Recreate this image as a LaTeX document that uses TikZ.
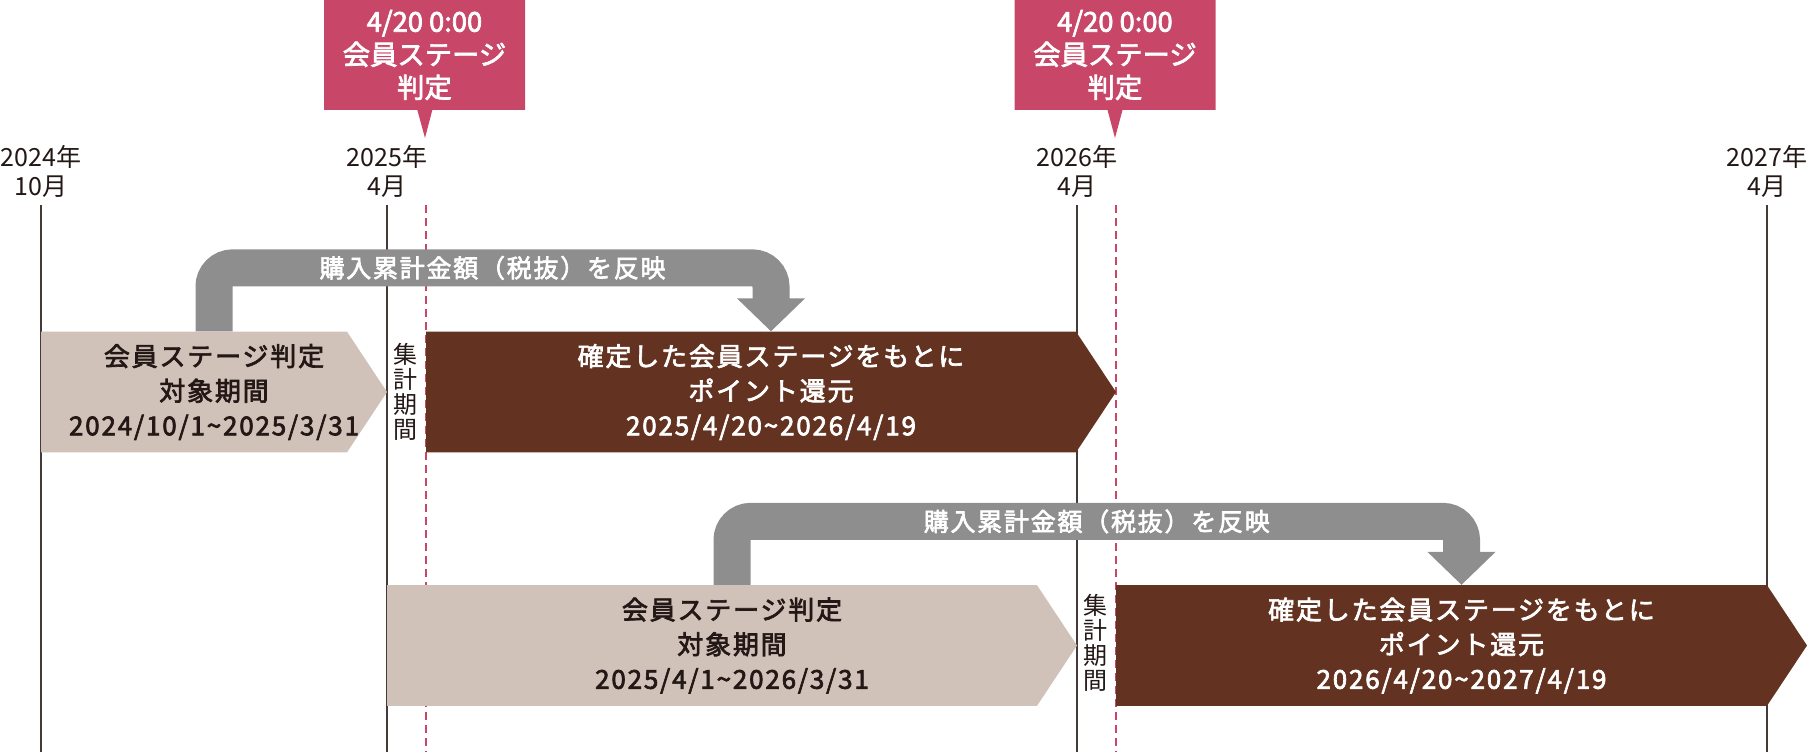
\documentclass[tikz,border=0pt]{standalone}
\usepackage{fontspec}
\setmainfont{Noto Sans CJK JP}
\newfontfamily\spaced[LetterSpace=7,FakeBold=2.6]{Noto Sans CJK JP}
\newfontfamily\medium[FakeBold=2.6]{Noto Sans CJK JP}
\usetikzlibrary{positioning,shapes.callouts,arrows.meta}

\definecolor{judgered}{RGB}{200,71,104}
\definecolor{stagebeige}{RGB}{208,193,185}
\definecolor{rebatebrown}{RGB}{99,50,32}
\definecolor{feedgray}{RGB}{142,142,142}
\definecolor{ink}{RGB}{35,24,21}

\tikzset{
  pent/.style={minimum height=90.5pt, path picture={
      \fill[#1] (path picture bounding box.north west)
        -- ([xshift=-30pt]path picture bounding box.north east)
        -- (path picture bounding box.east)
        -- ([xshift=-30pt]path picture bounding box.south east)
        -- (path picture bounding box.south west) -- cycle;}},
  stagebox/.style={pent=stagebeige, text=ink,
    font=\spaced\fontsize{19.5pt}{26pt}\selectfont},
  rebatebox/.style={pent=rebatebrown, text=white,
    font=\spaced\fontsize{19.5pt}{26pt}\selectfont},
}

\begin{document}
\begin{tikzpicture}
  [x=0.75pt,y=-0.75pt,
   every node/.style={inner sep=0pt,align=center},
   year/.style={text=ink,font=\fontsize{18.75pt}{21.75pt}\selectfont},
   axis/.style={draw=ink!85,line width=1.3pt},
   cut/.style={draw=judgered,line width=1.3pt,dash pattern=on 6pt off 3.75pt},
   judge/.style={rectangle callout,fill=judgered,text=white,
     minimum width=150.75pt,minimum height=82.5pt,callout pointer width=11.25pt,
     font=\medium\fontsize{20.5pt}{24.75pt}\selectfont},
   tally/.style={text=ink,font=\fontsize{18pt}{18.75pt}\selectfont},
   feed/.style={draw=feedgray,line width=27.75pt,rounded corners=14pt,
     -{Triangle[width=49.5pt,length=24.75pt]}},
   feedlabel/.style={text=white,font=\spaced\fontsize{18.75pt}{20pt}\selectfont}]
  \useasboundingbox (0,0) rectangle (1807,752);

  % time axis
  \foreach \x/\yr/\mo in {41/2024/10,387/2025/4,1077/2026/4,1767/2027/4} {
    \node [year] (y\yr) at (\x,171.5) {\yr 年\\\mo 月};
    \draw [axis] (\x,205) -- (\x,752);
  }
  \foreach \x in {426,1116}
    \draw [cut] (\x,205) -- (\x,752);

  % judgement callouts
  \coordinate (tip1) at (425,138);
  \coordinate (tip2) at (1115,138);
  \node [judge,callout absolute pointer={(tip1)}] (judge1) at (424.5,55) {4/20 0:00\\会員ステージ\\判定};
  \node [judge,callout absolute pointer={(tip2)}] (judge2) at (1115,55) {4/20 0:00\\会員ステージ\\判定};

  % periods
  \node [stagebox,minimum width=259.5pt] (stage1) at (214,392)
    {会員ステージ判定\\対象期間\\2024/10/1\textasciitilde 2025/3/31};
  \node [rebatebox,minimum width=517.5pt] (rebate1) at (771,392)
    {確定した会員ステージをもとに\\ポイント還元\\2025/4/20\textasciitilde 2026/4/19};
  \node [stagebox,minimum width=517.5pt] (stage2) at (732,645.5)
    {会員ステージ判定\\対象期間\\2025/4/1\textasciitilde 2026/3/31};
  \node [rebatebox,minimum width=518.25pt] (rebate2) at (1461.5,645.5)
    {確定した会員ステージをもとに\\ポイント還元\\2026/4/20\textasciitilde 2027/4/19};

  \node [tally] (tally1) at (405,392) {集\\計\\期\\間};
  \node [tally] (tally2) at (1095,643) {集\\計\\期\\間};

  \foreach \from/\to [count=\i] in {stage1/rebate1,stage2/rebate2}
    \draw [feed] (\from.north) -- ++(0,-63.5) -| node [feedlabel,pos=0.25] (feed\i) {購入累計金額（税抜）を反映} (\to.north);

\end{tikzpicture}
\end{document}
